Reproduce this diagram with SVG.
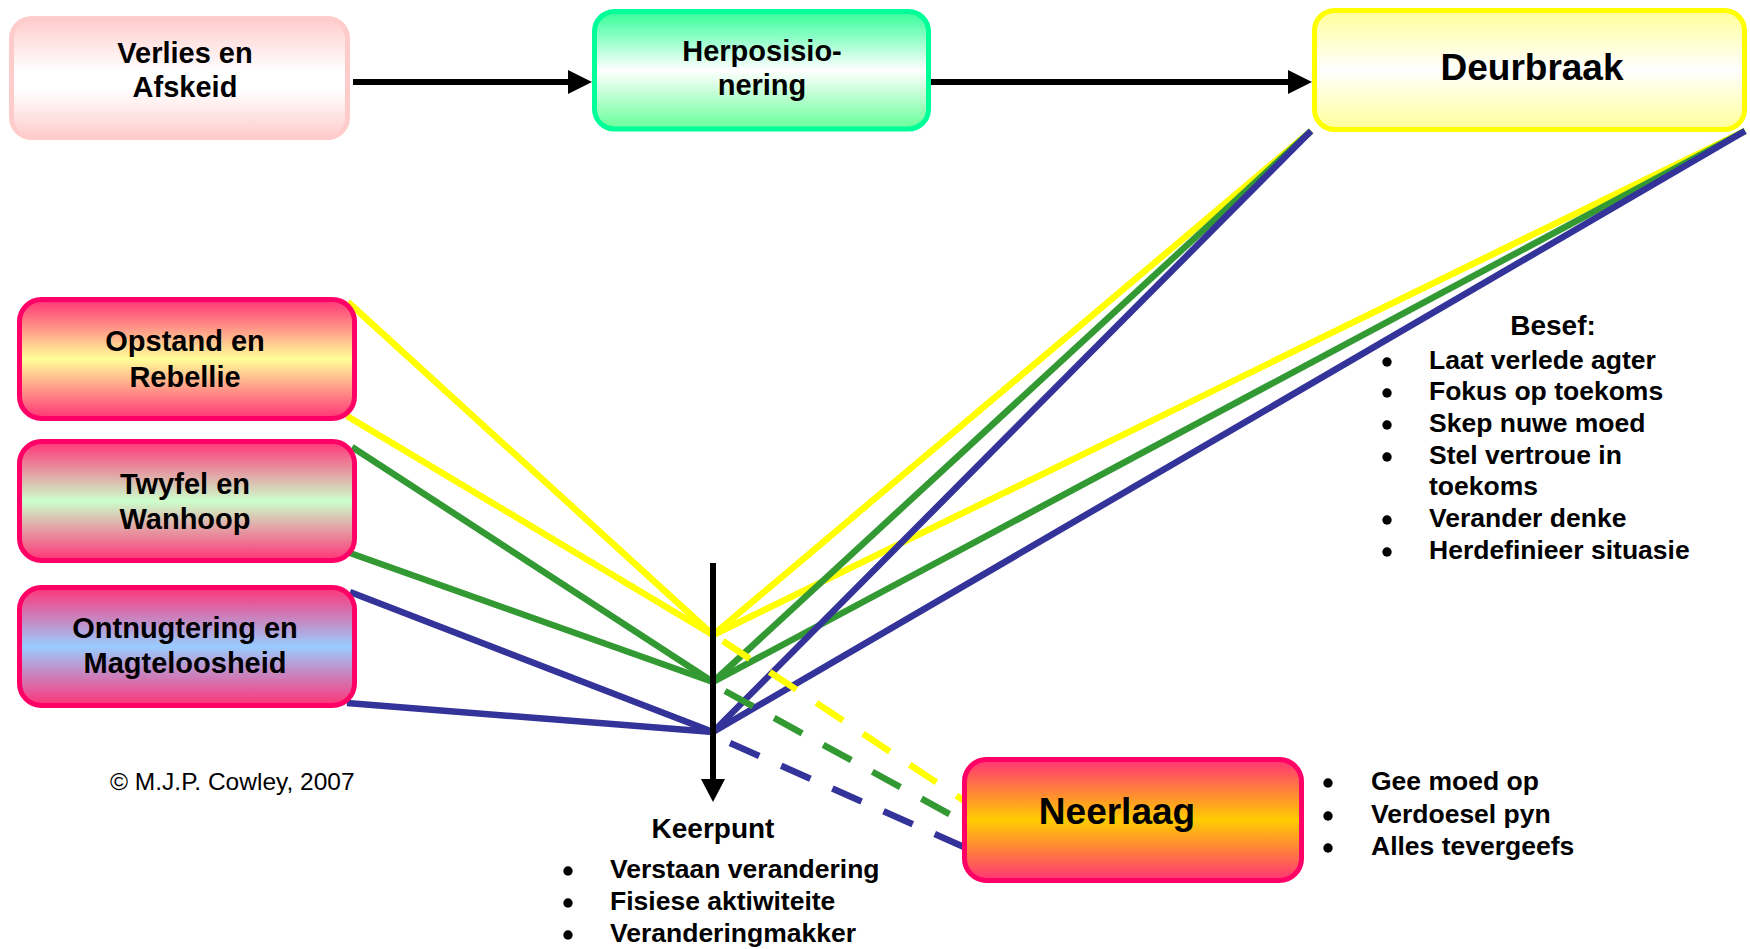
<svg xmlns="http://www.w3.org/2000/svg" width="1750" height="949" viewBox="0 0 1750 949">
<defs>
<linearGradient id="gPink" x1="0" y1="0" x2="0" y2="1">
<stop offset="0" stop-color="#FFCCCC"/><stop offset="0.45" stop-color="#FFFFFF"/><stop offset="0.6" stop-color="#FFFFFF"/><stop offset="1" stop-color="#FFCCCC"/>
</linearGradient>
<linearGradient id="gGreen" x1="0" y1="0" x2="0" y2="1">
<stop offset="0" stop-color="#33FF99"/><stop offset="0.5" stop-color="#FFFFFF"/><stop offset="1" stop-color="#66FF99"/>
</linearGradient>
<linearGradient id="gYellow" x1="0" y1="0" x2="0" y2="1">
<stop offset="0" stop-color="#FFFF99"/><stop offset="0.5" stop-color="#FFFFFF"/><stop offset="1" stop-color="#FFFF99"/>
</linearGradient>
<linearGradient id="gOpstand" x1="0" y1="0" x2="0" y2="1">
<stop offset="0" stop-color="#FF3377"/><stop offset="0.5" stop-color="#FFFF99"/><stop offset="1" stop-color="#FF3377"/>
</linearGradient>
<linearGradient id="gTwyfel" x1="0" y1="0" x2="0" y2="1">
<stop offset="0" stop-color="#FF3377"/><stop offset="0.5" stop-color="#CCFFCC"/><stop offset="1" stop-color="#FF3377"/>
</linearGradient>
<linearGradient id="gOntn" x1="0" y1="0" x2="0" y2="1">
<stop offset="0" stop-color="#FF3377"/><stop offset="0.5" stop-color="#99CCFF"/><stop offset="1" stop-color="#FF3377"/>
</linearGradient>
<linearGradient id="gNeer" x1="0" y1="0" x2="0" y2="1">
<stop offset="0" stop-color="#FF3377"/><stop offset="0.5" stop-color="#FFCC00"/><stop offset="1" stop-color="#FF3377"/>
</linearGradient>
<style>
text{font-family:"Liberation Sans",Arial,sans-serif;font-weight:bold;fill:#000}
.box{stroke-width:5}
.red{stroke:#FF0066}
.lbl{font-size:29px;text-anchor:middle}
.big{font-size:37px;text-anchor:middle}
.item{font-size:26.5px}
.hdr{font-size:28px;text-anchor:middle}
.dot{fill:#000}
.y{stroke:#FFFF00;stroke-width:6.5;fill:none}
.g{stroke:#339933;stroke-width:6.5;fill:none}
.b{stroke:#333399;stroke-width:6.5;fill:none}
.d{stroke-dasharray:32 24}
.arr{stroke:#000;stroke-width:6}
</style>
</defs>

<g id="connectors">
<line class="arr" x1="353" y1="82" x2="570" y2="82"/>
<polygon points="568,70 592,82 568,94" fill="#000"/>
<line class="arr" x1="931" y1="82" x2="1290" y2="82"/>
<polygon points="1288,70 1312,82 1288,94" fill="#000"/>
<line class="y" x1="348" y1="302" x2="713" y2="635"/>
<line class="y" x1="347" y1="416" x2="713" y2="635"/>
<line class="y" x1="713" y1="635" x2="1311" y2="131"/>
<line class="y" x1="713" y1="635" x2="1745" y2="131"/>
<line class="g" x1="352" y1="447" x2="713" y2="682"/>
<line class="g" x1="350" y1="553" x2="713" y2="682"/>
<line class="g" x1="713" y1="682" x2="1311" y2="131"/>
<line class="g" x1="713" y1="682" x2="1745" y2="131"/>
<line class="b" x1="350" y1="592" x2="713" y2="732"/>
<line class="b" x1="347" y1="703" x2="713" y2="732"/>
<line class="b" x1="713" y1="732" x2="1311" y2="131"/>
<line class="b" x1="713" y1="732" x2="1745" y2="131"/>
<line class="y d" x1="723" y1="641" x2="966" y2="802"/>
<line class="g d" x1="725" y1="691" x2="964" y2="822"/>
<line class="b d" x1="730" y1="743" x2="964" y2="847"/>
<line class="arr" x1="713" y1="563" x2="713" y2="781"/>
<polygon points="701,779 725,779 713,802" fill="#000"/>
</g>

<g id="verlies">
<rect class="box" x="11.5" y="18.5" width="336" height="119" rx="20" fill="url(#gPink)" stroke="#FFCCCC"/>
<text class="lbl" x="185" y="63">Verlies en</text>
<text class="lbl" x="185" y="97">Afskeid</text>
</g>

<g id="herposisionering">
<rect class="box" x="594.5" y="11.5" width="334" height="117.5" rx="20" fill="url(#gGreen)" stroke="#00FF99"/>
<text class="lbl" x="762" y="61">Herposisio-</text>
<text class="lbl" x="762" y="95">nering</text>
</g>

<g id="deurbraak">
<rect class="box" x="1314.5" y="10.5" width="430" height="119" rx="20" fill="url(#gYellow)" stroke="#FFFF00"/>
<text class="big" x="1532" y="80">Deurbraak</text>
</g>

<g id="opstand">
<rect class="box red" x="19.5" y="299.5" width="335" height="119" rx="22" fill="url(#gOpstand)"/>
<text class="lbl" x="185" y="351">Opstand en</text>
<text class="lbl" x="185" y="387">Rebellie</text>
</g>

<g id="twyfel">
<rect class="box red" x="19.5" y="441.5" width="335" height="119" rx="22" fill="url(#gTwyfel)"/>
<text class="lbl" x="185" y="494">Twyfel en</text>
<text class="lbl" x="185" y="529">Wanhoop</text>
</g>

<g id="ontnugtering">
<rect class="box red" x="19.5" y="587.5" width="335" height="118" rx="22" fill="url(#gOntn)"/>
<text class="lbl" x="185" y="638">Ontnugtering en</text>
<text class="lbl" x="185" y="673">Magteloosheid</text>
</g>

<g id="neerlaag">
<rect class="box red" x="964.5" y="759.5" width="337" height="121" rx="22" fill="url(#gNeer)"/>
<text class="big" x="1117" y="824">Neerlaag</text>
</g>

<g id="neerlaag-list">
<circle class="dot" cx="1328" cy="783" r="4.7"/>
<text class="item" x="1371" y="790">Gee moed op</text>
<circle class="dot" cx="1328" cy="816" r="4.7"/>
<text class="item" x="1371" y="823">Verdoesel pyn</text>
<circle class="dot" cx="1328" cy="848" r="4.7"/>
<text class="item" x="1371" y="855">Alles tevergeefs</text>
</g>

<g id="besef">
<text class="hdr" x="1553" y="335">Besef:</text>
<circle class="dot" cx="1387" cy="362" r="4.7"/>
<text class="item" x="1429" y="369">Laat verlede agter</text>
<circle class="dot" cx="1387" cy="393" r="4.7"/>
<text class="item" x="1429" y="400">Fokus op toekoms</text>
<circle class="dot" cx="1387" cy="425" r="4.7"/>
<text class="item" x="1429" y="432">Skep nuwe moed</text>
<circle class="dot" cx="1387" cy="457" r="4.7"/>
<text class="item" x="1429" y="464">Stel vertroue in</text>
<text class="item" x="1429" y="495">toekoms</text>
<circle class="dot" cx="1387" cy="520" r="4.7"/>
<text class="item" x="1429" y="527">Verander denke</text>
<circle class="dot" cx="1387" cy="552" r="4.7"/>
<text class="item" x="1429" y="559">Herdefinieer situasie</text>
</g>

<g id="keerpunt">
<text class="hdr" x="713" y="838">Keerpunt</text>
<circle class="dot" cx="568" cy="871" r="4.7"/>
<text class="item" x="610" y="878">Verstaan verandering</text>
<circle class="dot" cx="568" cy="903" r="4.7"/>
<text class="item" x="610" y="910">Fisiese aktiwiteite</text>
<circle class="dot" cx="568" cy="935" r="4.7"/>
<text class="item" x="610" y="942">Veranderingmakker</text>
</g>

<g id="copyright">
<text x="110" y="790" style="font-weight:normal;font-size:24.5px">© M.J.P. Cowley, 2007</text>
</g>
</svg>
